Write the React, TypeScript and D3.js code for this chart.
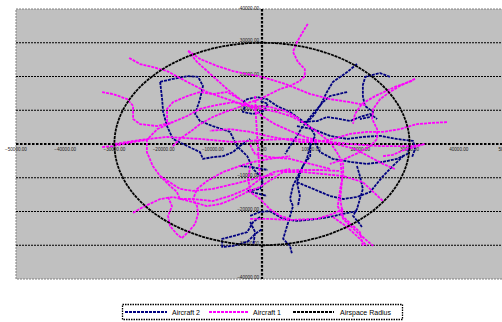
import React from "react";
import * as d3 from "d3";

// Axis ticks (data units)
const xTicks = [-50000, -40000, -30000, -20000, -10000, 0, 10000, 20000, 30000, 40000, 50000];
const yTicks = [-40000, -30000, -20000, -10000, 0, 10000, 20000, 30000, 40000];
const airspaceRadius = 30000;

// Tracks, values in thousands of units [x, y]
const aircraft1Tracks: number[][][] = [
  [[9.3,35.6],[8.3,33.2],[7.1,30.2],[6.3,27.3],[7.3,24.3],[8.7,22.2],[8.7,20.1],[7.7,18.7],[5.7,17.2],[3.7,16.3],[1.6,14.8],[-0.4,13.3],[-2.4,12.4],[-4.5,11.0],[-7.5,9.5],[-10,8],[-12.6,5.9],[-14.6,3.6],[-16.7,1.5],[-18.3,-0.9]],
  [[-15,27.6],[-12.6,25.2],[-9.1,23.1],[-5.9,21.6],[-3,20.7],[0,19.9],[4.7,17.8],[9.8,14.8],[13.8,13.3],[17.9,12.4],[21,11.5]],
  [[-15,27.6],[-13.2,24.3],[-10,20.1],[-7.1,16.3],[-4.5,13.3],[-1.8,10.4],[0,8.3],[2.6,5.9],[5.7,3.9],[8.7,2.1],[11.8,0.9],[15.9,-0.3],[18.9,-1.5],[22,-3.9],[24.6,-5.9],[27,-7.4]],
  [[-27,25.5],[-24.8,23.7],[-22.2,22.8],[-19.3,21.6],[-15.2,18.4],[-11.2,15.4],[-7.1,13.3],[-3,11.3],[0,10.4],[3,9.5],[5.7,8.3],[8.3,6.5],[11.2,3.6],[13.8,0.6],[15.2,-2.4],[16.5,-5.9],[16.5,-8.9],[15.9,-13.3],[15.4,-18.4],[16.5,-22.2],[19.3,-26.1],[22.6,-30.2]],
  [[-32.5,15.4],[-30.3,14.8],[-27.4,13.3],[-26.2,11.3],[-26.2,7.4],[-24.8,5.9],[-21.3,5.3],[-18.1,6.5],[-15.2,8.3],[-12.6,10.4],[-10,11.3],[-5.9,12.4],[-1.8,11.3],[1.6,11.0],[4.7,9.8],[7.7,7.4]],
  [[-19.3,6.5],[-19.3,10.4],[-18.1,12.4],[-15.2,14.2],[-12.6,15.4],[-10,14.8],[-7.1,15.4],[-4.5,13.3]],
  [[-32.5,-0.9],[-30.3,-0.6],[-26.2,0.6],[-23.4,1.2],[-21.3,4.4],[-18.1,6.5]],
  [[-29.9,0],[-24.8,1.2],[-19.3,2.1],[-12.6,1.5],[-5.9,0.6],[0,1.2],[5.7,1.5],[11.8,0.9],[17.9,0],[24,-0.6],[30.7,-0.6],[33.1,0],[30.7,-1.0],[28.5,-2.0],[26.6,-3.2],[24.6,-3.6]],
  [[37.6,6.5],[34.1,6.2],[31.5,5.9],[28,4.4],[24.6,3.6],[21.3,3.6],[17.9,3.0],[14.4,1.5],[11.2,0.6],[7.7,0.6],[4.3,1.5],[1.0,2.4],[-2.4,3.6],[-6.5,4.4],[-10.6,3.9]],
  [[31.1,19.3],[28,17.2],[26,15.4],[24,13.3],[22.6,10.4],[22.4,7.4],[23.4,4.4],[23.4,1.5],[22,-0.6],[19.9,-2.4],[16.9,-4.4],[13.8,-5.9]],
  [[30.5,18.7],[27,16.9],[23,14.2],[20.3,11.9],[18.9,8.9],[18.5,6.0]],
  [[-26.2,-20.4],[-24.2,-18.7],[-20.7,-16.3],[-18.1,-15.7],[-14,-17.2],[-11.2,-18.4],[-8.5,-17.8],[-5.9,-16.3],[-3,-14.2],[-0.4,-12.7],[4.3,-8.3],[8.3,-8.3],[12.4,-8.9],[16.5,-9.5],[20.5,-11.3],[24.6,-16.9]],
  [[-19.1,-15.7],[-18.3,-18.4],[-19.1,-21.3],[-18.7,-24.3],[-17.3,-26.7],[-16.3,-27.9],[-15,-26.1],[-13.6,-23.7],[-13,-20.7],[-13.2,-18.4],[-14,-16.3],[-13.2,-13.3],[-11.2,-11.0],[-7.9,-8.3],[-4.5,-6.5],[-1.8,-5.3],[1.6,-4.4],[5.7,-3.6]],
  [[-23.4,1.5],[-23.4,-2.4],[-22.2,-6.5],[-20.7,-9.5],[-18.7,-12.4],[-17.3,-14.2],[-16.7,-16.3]],
  [[-20.7,-9.5],[-16.7,-13.3],[-14,-13.9],[-10,-13.3],[-5.9,-11.9],[-1.8,-10.4],[2.6,-8.9]],
  [[-16.7,-16.3],[-14,-16.3],[-10,-16.9],[-6.5,-15.4],[-3,-13.3],[-0.4,-10.4],[2.4,-8.3],[5.7,-7.4]],
  [[-2.4,-6.5],[-2.8,-10.4],[-2.4,-14.2],[-0.4,-16.3],[1.6,-19.3],[3.7,-21.3],[5.7,-22.2]],
  [[-1.4,14.2],[-1.2,7.4],[-0.8,-1.5],[-0.4,-10.4]],
  [[3.7,-8.0],[7.7,-7.7],[11.8,-7.7],[15.9,-8.0]],
  [[15.9,-4.4],[16.3,-10.4],[15.9,-16.3],[16.5,-21.6],[19.9,-26.1],[20.5,-30.2]],
  [[-2.4,-22.2],[1.6,-22.2],[5.7,-22.5],[11.2,-22.2],[14.4,-20.7],[16.5,-19.3]],
  [[14.4,-21.6],[17.3,-24.6],[19.9,-28.1],[21.3,-30.2]],
  [[-2.4,-0.2],[-2.0,-1.5],[-1.4,-3.0],[1.6,-3.9],[5.7,-4.4],[9.8,-5.9],[13.8,-7.4]],
];

const aircraft2Tracks: number[][][] = [
  [[-20.7,18.4],[-18.1,19.3],[-15.2,20.1],[-13,19.9],[-12,17.2],[-12.6,13.3],[-13.6,8.9],[-12.6,6.8],[-10,5.3],[-6.5,3.6],[-5.1,-0.6],[-3,-3.6],[-1.8,-7.4],[-0.4,-9.5],[0.2,-11.3],[-0.4,-13.3],[-3,-13.9],[1,-15.4]],
  [[-20.7,18.4],[-20.3,13.3],[-20.1,9.5],[-19.3,5.3],[-18.1,1.5],[-15.2,-0.6],[-12.6,-2.4],[-12,-4.4],[-10,-3.9],[-7.9,-3.6],[-5.9,-2.4],[-4.5,-0.6],[-2.4,1.5]],
  [[-3.9,12.4],[-3,13.3],[-1,13.9],[1,13.3],[3,11.3],[5.7,9.5],[7.7,7.4],[9.8,5],[10.8,2.4],[9.8,-0.6],[9.1,-4.4],[7.7,-8.3],[6.3,-12.4],[5.7,-16.3],[6.3,-18.4],[5.1,-24.3],[4.3,-28.1],[5.7,-30.2],[6.1,-32.6]],
  [[-3.5,11],[-3.9,9.5],[-1.8,8.9],[0.4,9.8],[1.2,11.9],[-0.4,12.8]],
  [[19.3,23.7],[17.3,21.3],[14.4,18.4],[13.2,15.4],[11.8,11.3],[10.4,8.3],[8.3,5.3],[7.1,2.4],[5.7,-0.6],[4.7,-3.0]],
  [[26,19.9],[24,21],[21,19.9],[20.5,17.5],[20.5,14.2],[20.9,11.3],[22.6,9.5],[22,8.0],[19.9,7.4]],
  [[17.3,15.4],[13.8,14.2],[12.4,12.4],[11.2,10.4],[9.8,8],[8.7,5.9]],
  [[7.7,6.5],[11.2,6.8],[13.2,8],[15.9,7.4],[17.9,6.8],[19.9,8],[22,8.9],[23.4,7.4]],
  [[7.1,5.3],[10.4,4.4],[13.8,2.4],[17.3,1.5],[20.5,2.1],[24,2.4],[27.4,1.5],[30.7,0.9],[31.1,-1.5],[30.5,-3.9]],
  [[10.4,1.5],[11.8,-2.4],[14.4,-4.4],[17.9,-5.3],[21.3,-5.9],[24.6,-5.3],[27.4,-4.4],[29.5,-3.0],[30.1,-0.6]],
  [[7.1,-11.3],[10.4,-13.3],[13.8,-15.4],[16.5,-16.3],[19.3,-15.7],[22,-14.2],[24.6,-9.5],[26.6,-6.5],[28.7,-3.6]],
  [[19.3,-6.5],[19.9,-9.5],[20.5,-13.3],[19.9,-16.3],[19.3,-19.3],[18.5,-21.3],[19.9,-23.7],[20.3,-24.6]],
  [[-2.4,-21.3],[-0.4,-20.1],[1.6,-19.9],[4.3,-22.2],[7.1,-22.8],[11.2,-22.2],[13.8,-21.6],[16.5,-20.7],[19.3,-19.9]],
  [[-0.4,-21.6],[-1.8,-23.1],[-3,-26.1],[-5.9,-27.3],[-8.1,-28.1],[-8.1,-30.5],[-5.9,-30.2],[-3,-29],[-1.4,-26.7],[0,-25.2]],
  [[-2.4,-23.1],[-1.4,-26.1],[-1.8,-30.2]],
  [[-4.5,-6.5],[-2.4,-6.8],[0,-7.4],[1.2,-7.7]],
  [[9.8,0.6],[9.8,-3.6],[8.3,-6.5],[7.1,-11.3],[7.7,-15.4],[7.3,-18.4]],
];

const W = 502;
const H = 322;
const plotLeft = 16;
const plotRight = 508;
const plotTop = 9;
const plotBottom = 279;

const NAVY = "#000080";
const MAGENTA = "#ff00ff";

export default function App() {
  const x = d3.scaleLinear().domain([-50000, 50000]).range([plotLeft, plotRight]);
  const y = d3.scaleLinear().domain([-40000, 40000]).range([plotBottom, plotTop]);
  const line = d3
    .line<number[]>()
    .x((d) => x(d[0] * 1000))
    .y((d) => y(d[1] * 1000))
    .curve(d3.curveLinear);
  const fmt = d3.format(".2f");
  const font = "Arial, 'Liberation Sans', sans-serif";

  return (
    <svg
      width={W}
      height={H}
      style={{ position: "absolute", left: 0, top: 0, background: "#fff" }}
    >
      <defs>
        <clipPath id="plotClip">
          <rect x={plotLeft} y={plotTop} width={plotRight - plotLeft} height={plotBottom - plotTop} />
        </clipPath>
      </defs>
      <rect
        x={plotLeft}
        y={plotTop}
        width={plotRight - plotLeft}
        height={plotBottom - plotTop}
        fill="#c0c0c0"
        stroke="#808080"
        strokeWidth={1}
        strokeDasharray="2 1"
      />
      {/* gridlines */}
      {yTicks
        .filter((t) => t !== 0 && t !== 40000 && t !== -40000)
        .map((t) => (
          <line
            key={"g" + t}
            x1={plotLeft}
            x2={plotRight}
            y1={y(t)}
            y2={y(t)}
            stroke="#000"
            strokeWidth={1}
            strokeDasharray="2 1"
          />
        ))}
      {/* axes */}
      <line x1={plotLeft} x2={plotRight} y1={y(0)} y2={y(0)} stroke="#000" strokeWidth={2.2} strokeDasharray="2.5 1.5" />
      <line x1={x(0)} x2={x(0)} y1={plotTop} y2={plotBottom} stroke="#000" strokeWidth={2.2} strokeDasharray="2.5 1.5" />
      {/* tick labels */}
      {xTicks.map((t) => (
        <text key={"xl" + t} x={x(t)} y={y(0) + 6.5} fontSize={4.6} fontFamily={font} textAnchor="middle" fill="#222">
          {fmt(t)}
        </text>
      ))}
      {yTicks.map((t) => (
        <text key={"yl" + t} x={x(0) - 3} y={y(t) - (t === 40000 ? -1 : 0.5)} fontSize={4.6} fontFamily={font} textAnchor="end" fill="#222">
          {fmt(t)}
        </text>
      ))}
      <g clipPath="url(#plotClip)" fill="none" strokeLinejoin="round">
        {aircraft2Tracks.map((tr, i) => (
          <path key={"a2" + i} d={line(tr) || ""} stroke={NAVY} strokeWidth={1.8} strokeDasharray="3 1" />
        ))}
        {aircraft1Tracks.map((tr, i) => (
          <path key={"a1" + i} d={line(tr) || ""} stroke={MAGENTA} strokeWidth={1.8} strokeDasharray="3 1" />
        ))}
        <ellipse
          cx={x(0)}
          cy={y(0)}
          rx={x(airspaceRadius) - x(0)}
          ry={y(0) - y(airspaceRadius)}
          stroke="#000"
          strokeWidth={1.8}
          strokeDasharray="3 0.8"
        />
      </g>
      {/* legend */}
      <g fontFamily={font} fontSize={7}>
        <rect x={122.5} y={304.5} width={280} height={15} fill="#fff" stroke="#000" strokeWidth={1.3} strokeDasharray="1.5 1" />
        <line x1={125} x2={167} y1={312} y2={312} stroke={NAVY} strokeWidth={1.8} strokeDasharray="3 1" />
        <text x={172} y={314.5}>Aircraft 2</text>
        <line x1={209} x2={248} y1={312} y2={312} stroke={MAGENTA} strokeWidth={1.8} strokeDasharray="3 1" />
        <text x={253} y={314.5}>Aircraft 1</text>
        <line x1={293} x2={334} y1={312} y2={312} stroke="#000" strokeWidth={1.8} strokeDasharray="3 1" />
        <text x={340} y={314.5}>Airspace Radius</text>
      </g>
    </svg>
  );
}
